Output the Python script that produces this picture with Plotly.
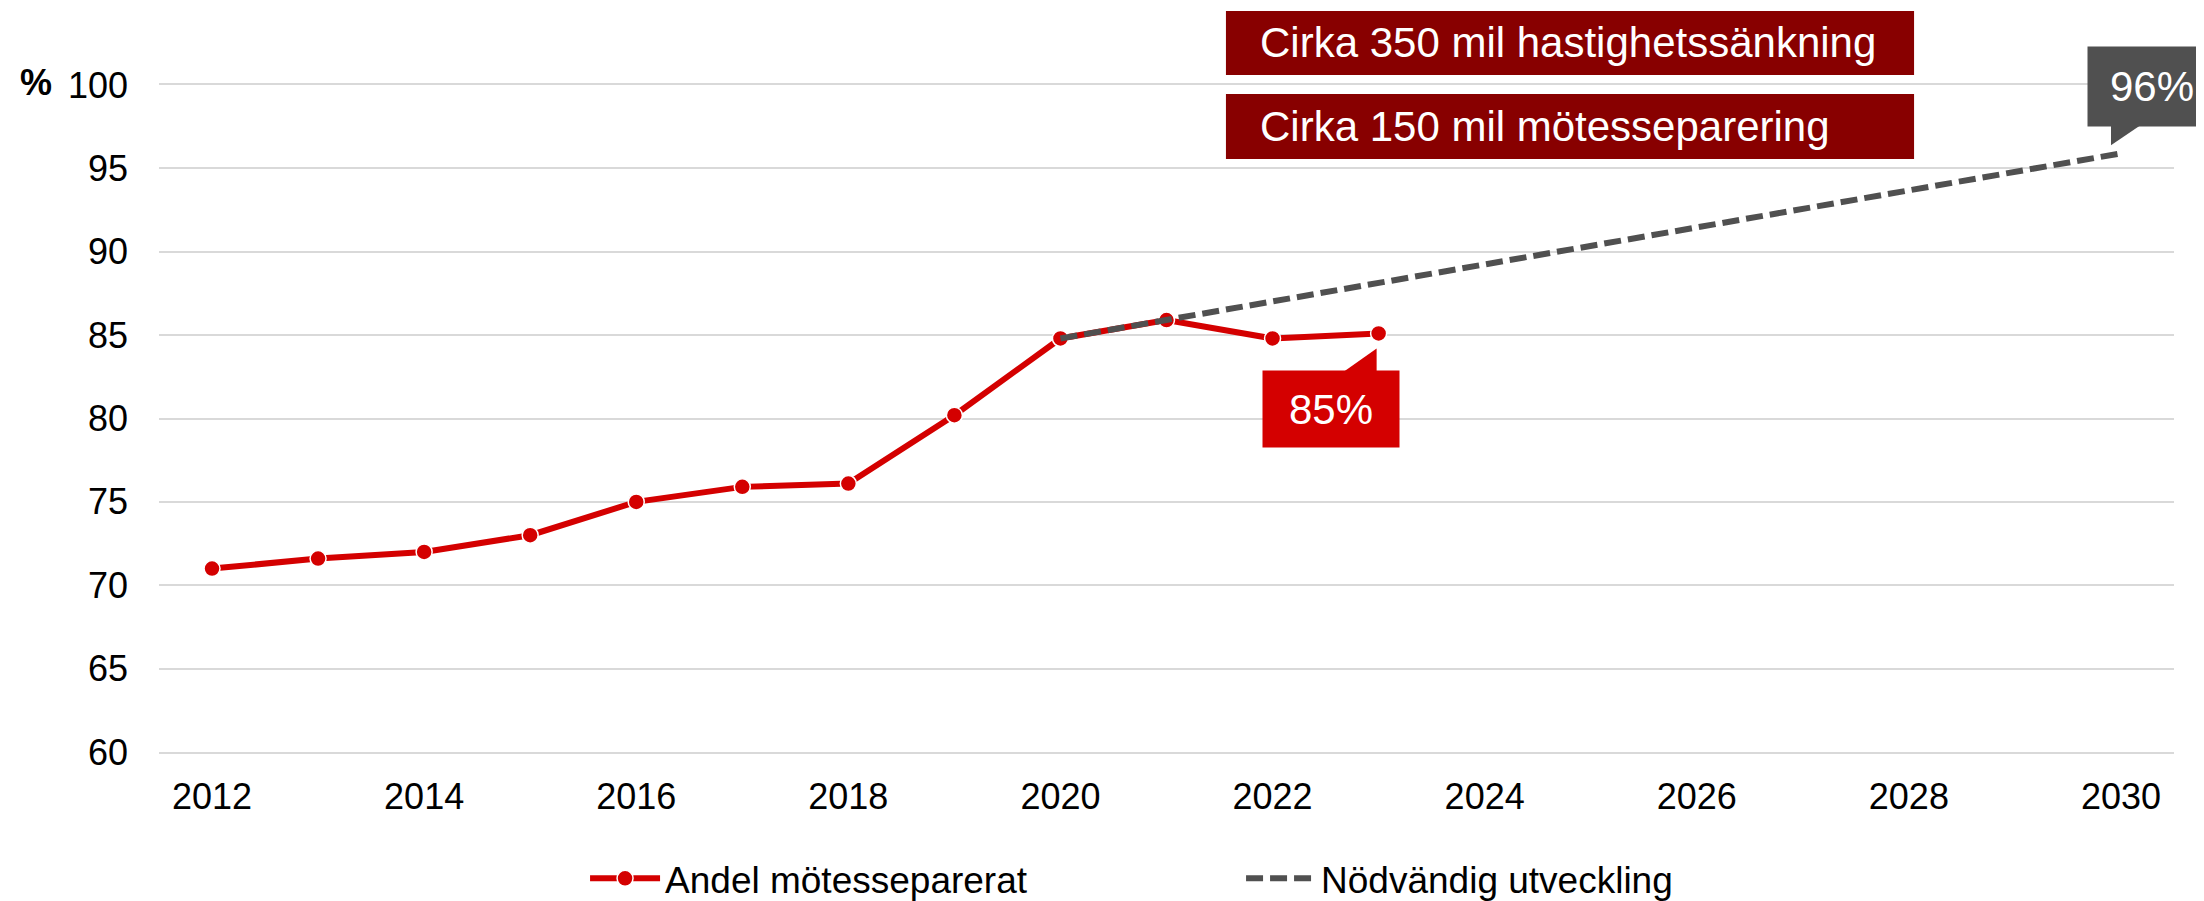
import plotly.graph_objects as go

FONT = "Liberation Sans, Arial, sans-serif"
RED = "#d40000"
DARK_RED = "#880000"
GREY = "#505050"
GRID = "#d9d9d9"

years = [2012, 2013, 2014, 2015, 2016, 2017, 2018, 2019, 2020, 2021, 2022, 2023]
share_separated = [71.0, 71.6, 72.0, 73.0, 75.0, 75.9, 76.1, 80.2, 84.8, 85.9, 84.8, 85.1]

needed_years = [2020, 2030]
needed_share = [84.8, 95.9]

y_ticks = [60, 65, 70, 75, 80, 85, 90, 95, 100]
x_ticks = [2012, 2014, 2016, 2018, 2020, 2022, 2024, 2026, 2028, 2030]

fig = go.Figure()
fig.add_trace(
    go.Scatter(
        x=years,
        y=share_separated,
        mode="lines+markers",
        name="Andel mötesseparerat",
        line={"color": RED, "width": 6},
        marker={"color": RED, "size": 16, "line": {"color": "white", "width": 1.5}},
    )
)
fig.add_trace(
    go.Scatter(
        x=needed_years,
        y=needed_share,
        mode="lines",
        name="Nödvändig utveckling",
        line={"color": GREY, "width": 6, "dash": "17px,7px"},
    )
)

# callout boxes with tails anchored to the labelled points
callouts = [
    (years[-1], share_separated[-1], "85%", RED, -48, -75.5, 136, 76, "M -36,-39 L -2,-15 L -2,-39 Z"),
    (needed_years[-1], needed_share[-1], "96%", GREY, 31, 67, 128, 79, "M -10,29 L 21,29 L -10,8 Z"),
]
for x, y, label, color, dx, dy, w, h, tail in callouts:
    fig.add_annotation(
        x=x, y=y, xref="x", yref="y", text=label, showarrow=False,
        xshift=dx, yshift=dy, width=w, height=h, bgcolor=color, borderpad=0,
        font={"family": FONT, "size": 42, "color": "white"},
    )
    fig.add_shape(
        type="path", xref="x", yref="y", xsizemode="pixel", ysizemode="pixel",
        xanchor=x, yanchor=y, path=tail, fillcolor=color, line={"width": 0},
    )

# the two dark red info boxes at the top
for text, y0, y1 in (
    ("Cirka 350 mil hastighetssänkning", 1.015, 1.111),
    ("Cirka 150 mil mötesseparering", 0.889, 0.9865),
):
    fig.add_shape(
        type="rect", xref="paper", yref="paper", x0=0.5295, x1=0.8710, y0=y0, y1=y1,
        fillcolor=DARK_RED, line={"width": 0},
    )
    fig.add_annotation(
        x=0.5295, y=(y0 + y1) / 2, xref="paper", yref="paper", text=text,
        showarrow=False, xanchor="left", yanchor="middle", xshift=32,
        font={"family": FONT, "size": 42, "color": "white"},
    )

fig.add_annotation(
    x=0, y=100, xref="paper", yref="y", text="<b>%</b>", showarrow=False,
    xanchor="center", yanchor="middle", xshift=-123, yshift=3,
    font={"family": FONT, "size": 36, "color": "black"},
)

# the page body adds an 8px offset, so margins are shifted to compensate
fig.update_layout(
    width=2204,
    height=901,
    margin={"l": 151, "r": 38, "t": 77, "b": 157, "autoexpand": False},
    plot_bgcolor="white",
    paper_bgcolor="white",
    font={"family": FONT, "size": 36, "color": "black"},
    showlegend=True,
    legend={
        "orientation": "h",
        "x": 0.537,
        "xanchor": "center",
        "y": -0.19,
        "yanchor": "middle",
        "font": {"family": FONT, "size": 37},
        "itemwidth": 70,
        "entrywidth": 571,
    },
    xaxis={
        "range": [2011.5, 2030.5],
        "tickvals": x_ticks,
        "showgrid": False,
        "zeroline": False,
        "showline": True,
        "mirror": True,
        "linecolor": GRID,
        "linewidth": 2,
        "ticks": "",
        "ticklabelstandoff": 12,
        "automargin": False,
    },
    yaxis={
        "range": [60, 100],
        "tickvals": y_ticks,
        "showgrid": True,
        "gridcolor": GRID,
        "gridwidth": 2,
        "zeroline": False,
        "showline": False,
        "ticks": "",
        "ticklabelstandoff": 30,
        "automargin": False,
    },
)

fig.write_html("out.html")
